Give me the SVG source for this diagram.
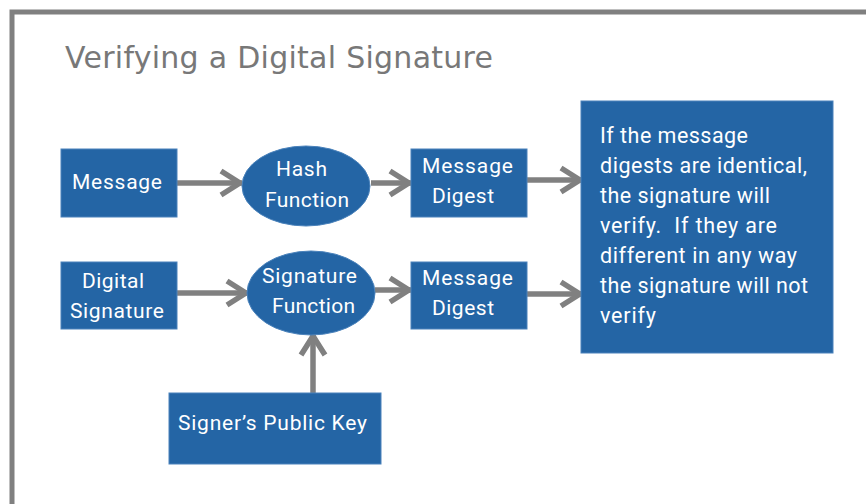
<svg xmlns="http://www.w3.org/2000/svg" width="866" height="504" viewBox="0 0 866 504">
<style>
.n{fill:#2465a5;stroke:#4a82bb;stroke-width:1}
.t{fill:#ffffff;font-family:Roboto,"Liberation Sans",sans-serif;font-size:21px;text-anchor:middle}
.tl{fill:#ffffff;font-family:Roboto,"Liberation Sans",sans-serif;font-size:21.5px}
.c{stroke:#808080;stroke-width:5.5;fill:none}
</style>
<defs>
<marker id="ah" markerUnits="userSpaceOnUse" markerWidth="30" markerHeight="30" viewBox="-26 -15 30 30" refX="0" refY="0" orient="auto">
<path d="M-21,-12 L-2,0 L-21,12" fill="none" stroke="#808080" stroke-width="5.5" stroke-linejoin="round" stroke-linecap="butt"/>
</marker>
</defs>
<rect x="0" y="0" width="866" height="504" fill="#ffffff"/>
<path d="M12,504 L12,12 L866,12" fill="none" stroke="#808080" stroke-width="5"/>
<text x="65" y="68" font-family="'DejaVu Sans',Verdana,sans-serif" font-size="30" fill="#787878" textLength="428" lengthAdjust="spacing">Verifying a Digital Signature</text>
<g id="connectors">
<line class="c" x1="177" y1="183" x2="242" y2="183" marker-end="url(#ah)"/>
<line class="c" x1="371" y1="183" x2="411" y2="183" marker-end="url(#ah)"/>
<line class="c" x1="527" y1="180" x2="582" y2="180" marker-end="url(#ah)"/>
<line class="c" x1="177" y1="293" x2="248" y2="293" marker-end="url(#ah)"/>
<line class="c" x1="375" y1="290" x2="411" y2="290" marker-end="url(#ah)"/>
<line class="c" x1="527" y1="294" x2="582" y2="294" marker-end="url(#ah)"/>
<line class="c" x1="313" y1="393" x2="313" y2="334" marker-end="url(#ah)"/>
</g>
<g id="message">
<rect class="n" x="61" y="149" width="116" height="68"/>
<text class="t" x="117" y="189" textLength="90" lengthAdjust="spacing">Message</text>
</g>
<g id="hash">
<ellipse class="n" cx="306" cy="186" rx="64" ry="40"/>
<text class="t" x="301.5" y="176" textLength="51" lengthAdjust="spacing">Hash</text>
<text class="t" x="307" y="207" textLength="84" lengthAdjust="spacing">Function</text>
</g>
<g id="digest1">
<rect class="n" x="411" y="149" width="116" height="68"/>
<text class="t" x="467.5" y="173" textLength="91" lengthAdjust="spacing">Message</text>
<text class="t" x="463" y="203" textLength="62" lengthAdjust="spacing">Digest</text>
</g>
<g id="digsig">
<rect class="n" x="61" y="262" width="116" height="67"/>
<text class="t" x="113" y="288" textLength="62" lengthAdjust="spacing">Digital</text>
<text class="t" x="117" y="318" textLength="94" lengthAdjust="spacing">Signature</text>
</g>
<g id="sigfunc">
<ellipse class="n" cx="311" cy="293" rx="64" ry="42"/>
<text class="t" x="309.5" y="283" textLength="95" lengthAdjust="spacing">Signature</text>
<text class="t" x="313.5" y="313" textLength="83" lengthAdjust="spacing">Function</text>
</g>
<g id="digest2">
<rect class="n" x="411" y="262" width="116" height="67"/>
<text class="t" x="467.5" y="285" textLength="91" lengthAdjust="spacing">Message</text>
<text class="t" x="463" y="315" textLength="62" lengthAdjust="spacing">Digest</text>
</g>
<g id="pubkey">
<rect class="n" x="169" y="393" width="212" height="71"/>
<text class="t" x="272.5" y="430" textLength="189" lengthAdjust="spacing">Signer’s Public Key</text>
</g>
<g id="result">
<rect class="n" x="581" y="101" width="252" height="252"/>
<text class="tl" x="600" y="143" textLength="148" lengthAdjust="spacing">If the message</text>
<text class="tl" x="600" y="173" textLength="207" lengthAdjust="spacing">digests are identical,</text>
<text class="tl" x="600" y="203" textLength="170" lengthAdjust="spacing">the signature will</text>
<text class="tl" x="600" y="233" xml:space="preserve" textLength="177" lengthAdjust="spacing">verify.  If they are</text>
<text class="tl" x="600" y="263" textLength="197" lengthAdjust="spacing">different in any way</text>
<text class="tl" x="600" y="293" textLength="208" lengthAdjust="spacing">the signature will not</text>
<text class="tl" x="600" y="323" textLength="56" lengthAdjust="spacing">verify</text>
</g>
</svg>
